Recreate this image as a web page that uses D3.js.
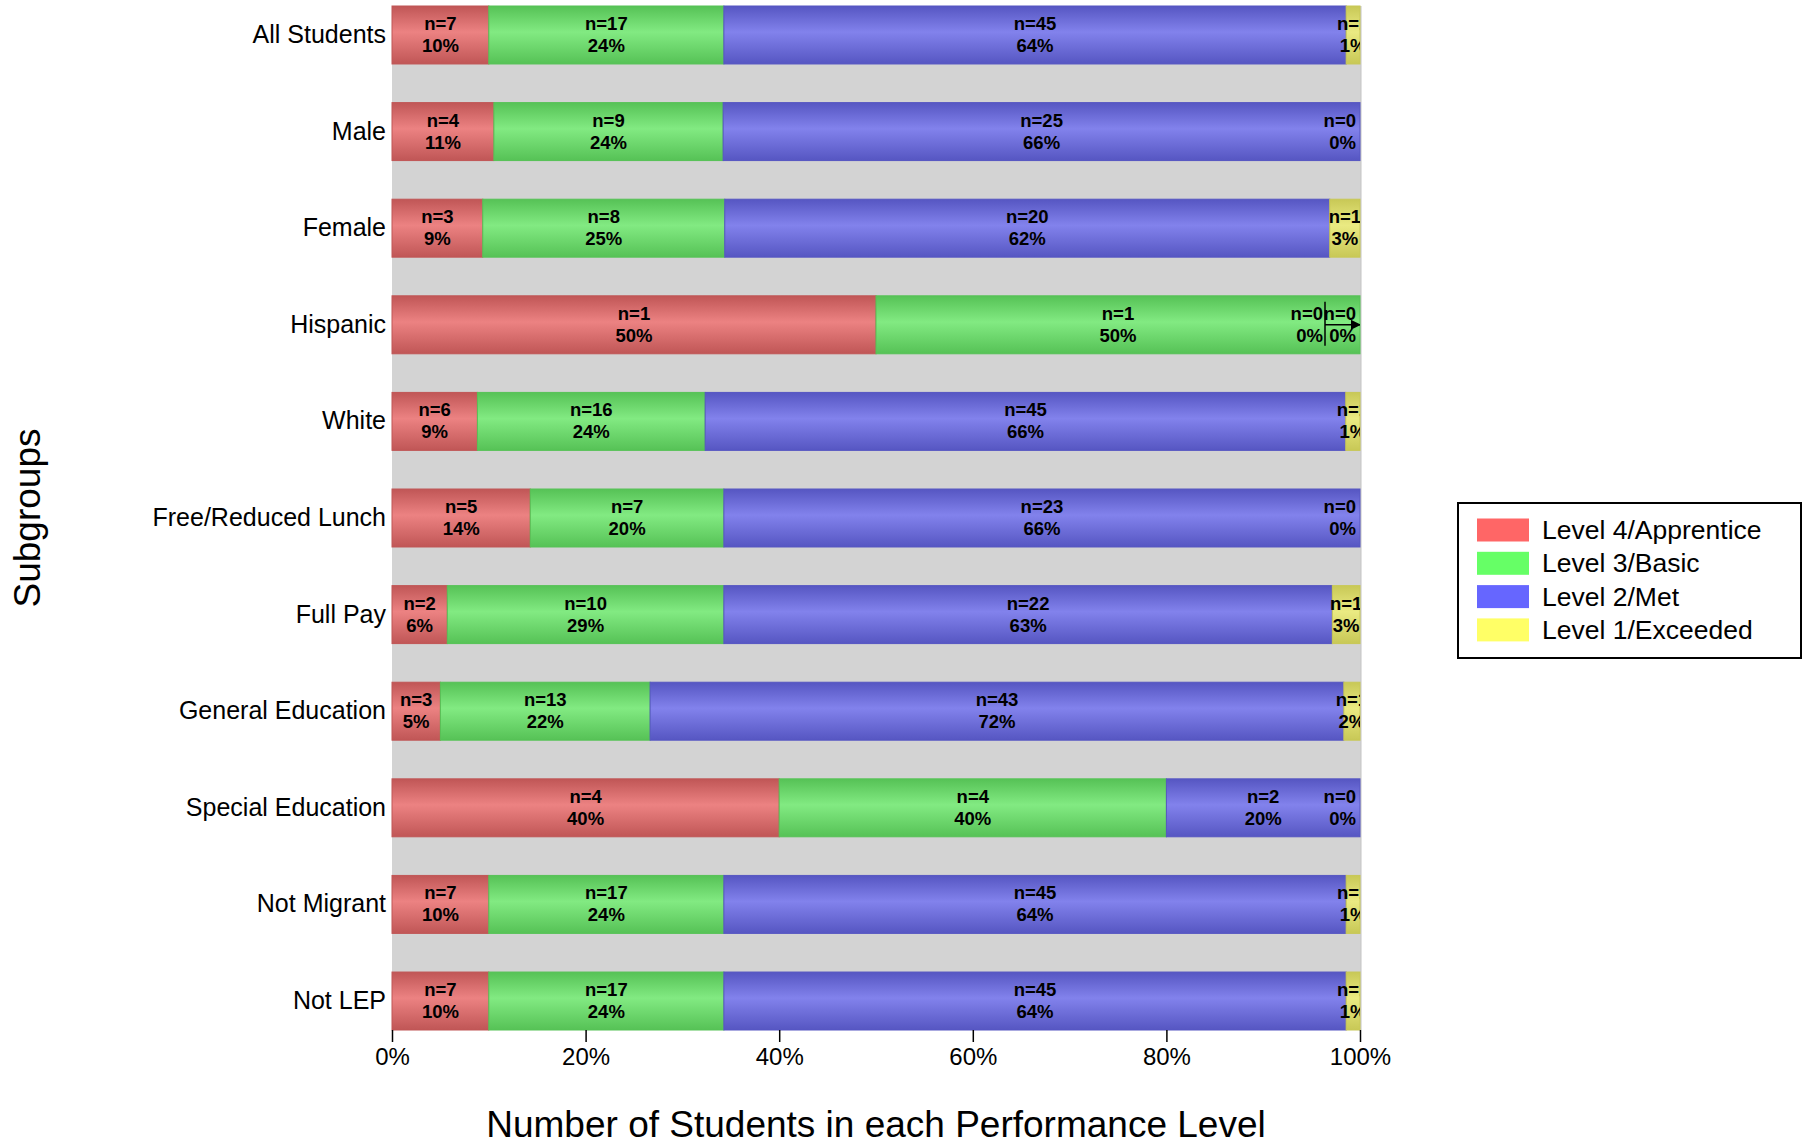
<!DOCTYPE html>
<html>
<head>
<meta charset="utf-8">
<script src="https://cdn.jsdelivr.net/npm/d3@7"></script>
<style>
  body { margin: 0; background: #fff; }
  svg { display: block; font-family: "Liberation Sans", Arial, sans-serif; }
</style>
</head>
<body>
<svg id="chart" width="1808" height="1144"></svg>
<script>
// data
var subgroups = ["All Students", "Male", "Female", "Hispanic", "White", "Free/Reduced Lunch",
    "Full Pay", "General Education", "Special Education", "Not Migrant", "Not LEP"];
var levels = ["Level 4/Apprentice", "Level 3/Basic", "Level 2/Met", "Level 1/Exceeded"];

var level4 = [7, 4, 3, 1, 6, 5, 2, 3, 4, 7, 7];
var level3 = [17, 9, 8, 1, 16, 7, 10, 13, 4, 17, 17];
var level2 = [45, 25, 20, 0, 45, 23, 22, 43, 2, 45, 45];
var level1 = [1, 0, 1, 0, 1, 0, 1, 1, 0, 1, 1];

var pct4 = [10, 11, 9, 50, 9, 14, 6, 5, 40, 10, 10];
var pct3 = [24, 24, 25, 50, 24, 20, 29, 22, 40, 24, 24];
var pct2 = [64, 66, 62, 0, 66, 66, 63, 72, 20, 64, 64];
var pct1 = [1, 0, 3, 0, 1, 0, 3, 2, 0, 1, 1];

var xTicks = [0, 0.2, 0.4, 0.6, 0.8, 1];

var legendColors = ["#ff6666", "#66ff66", "#6666ff", "#ffff66"];
var barLight = ["rgb(236,130,130)", "rgb(130,234,130)", "rgb(130,130,236)", "rgb(234,234,130)"];
var barDark = ["rgb(192,86,86)", "rgb(86,194,86)", "rgb(86,86,194)", "rgb(200,200,86)"];

var counts = [level4, level3, level2, level1];
var pcts = [pct4, pct3, pct2, pct1];

var svg = d3.select("#chart");
var plotL = 392, plotR = 1360, plotT = 6, plotB = 1030;

var x = d3.scaleLinear().domain([0, 1]).range([plotL, plotR]);
var y = d3.scaleBand().domain(subgroups).range([plotT, plotB]).paddingInner(0.4).paddingOuter(0);

// gradients for the bars
var defs = svg.append("defs");
levels.forEach(function (lv, i) {
    var g = defs.append("linearGradient")
        .attr("id", "grad" + i)
        .attr("x1", 0).attr("y1", 0).attr("x2", 0).attr("y2", 1);
    g.append("stop").attr("offset", "0%").attr("stop-color", barDark[i]);
    g.append("stop").attr("offset", "45%").attr("stop-color", barLight[i]);
    g.append("stop").attr("offset", "100%").attr("stop-color", barDark[i]);
});
defs.append("clipPath").attr("id", "plotclip")
    .append("rect").attr("x", plotL).attr("y", 0).attr("width", plotR - plotL).attr("height", 1144);
defs.append("marker").attr("id", "arrow")
    .attr("viewBox", "0 0 10 10").attr("refX", 9).attr("refY", 5)
    .attr("markerWidth", 10).attr("markerHeight", 10)
    .attr("markerUnits", "userSpaceOnUse")
    .attr("orient", "auto")
    .append("path").attr("d", "M0,0L10,5L0,10z").attr("fill", "#000");

// plot background
svg.append("rect")
    .attr("x", plotL).attr("y", plotT)
    .attr("width", plotR - plotL + 1).attr("height", plotB - plotT)
    .attr("fill", "#d3d3d3");
svg.append("line")
    .attr("x1", plotR + 1).attr("x2", plotR + 1).attr("y1", plotT).attr("y2", plotB)
    .attr("stroke", "#c4c4c4");

// build segments
var segs = [];
subgroups.forEach(function (s, r) {
    var total = d3.sum(counts, function (c) { return c[r]; });
    var acc = 0;
    counts.forEach(function (c, k) {
        segs.push({ group: s, row: r, level: k, n: c[r], pct: pcts[k][r], x0: acc / total, x1: (acc + c[r]) / total });
        acc += c[r];
    });
});

svg.append("g").selectAll("rect")
    .data(segs.filter(function (d) { return d.n > 0; }))
    .join("rect")
    .attr("x", function (d) { return x(d.x0); })
    .attr("y", function (d) { return y(d.group); })
    .attr("width", function (d) { return x(d.x1) - x(d.x0); })
    .attr("height", y.bandwidth())
    .attr("fill", function (d) { return "url(#grad" + d.level + ")"; })
    .attr("stroke", function (d) { return barDark[d.level]; })
    .attr("stroke-width", 1);

// labels inside bars
var labels = svg.append("g").attr("clip-path", "url(#plotclip)")
    .style("font-weight", "bold").style("font-size", "18.5px").attr("fill", "#000");

segs.forEach(function (d) {
    var bc = y(d.group) + y.bandwidth() / 2;
    var lx, anchor = "middle";
    if (d.n === 0) {
        anchor = "end";
        lx = x(d.x1) - 4;
        // two empty levels stacked on the same spot: push the earlier one out of the way
        var later = segs.filter(function (e) { return e.row === d.row && e.level > d.level && e.n === 0; });
        if (later.length) {
            lx = x(d.x1) - 37;
            labels.append("line")
                .attr("x1", lx + 2).attr("x2", lx + 2).attr("y1", bc - 23).attr("y2", bc + 21)
                .attr("stroke", "#000").attr("stroke-width", 1.5);
            labels.append("line")
                .attr("x1", lx + 2).attr("x2", x(d.x1)).attr("y1", bc).attr("y2", bc)
                .attr("stroke", "#000").attr("stroke-width", 1.5)
                .attr("marker-end", "url(#arrow)");
        }
    } else {
        lx = (x(d.x0) + x(d.x1)) / 2;
    }
    labels.append("text").attr("x", lx).attr("y", bc - 5)
        .attr("text-anchor", anchor).text("n=" + d.n);
    labels.append("text").attr("x", lx).attr("y", bc + 17)
        .attr("text-anchor", anchor).text(d.pct + "%");
});

// y labels
svg.append("g").selectAll("text")
    .data(subgroups)
    .join("text")
    .attr("x", 386)
    .attr("y", function (d) { return y(d) + y.bandwidth() / 2 + 8; })
    .attr("text-anchor", "end")
    .style("font-size", "25px")
    .text(function (d) { return d; });

// x axis
var xAxis = svg.append("g")
    .attr("transform", "translate(0," + plotB + ")")
    .call(d3.axisBottom(x).tickValues(xTicks).tickFormat(d3.format(".0%")).tickSize(12).tickPadding(6));
xAxis.select(".domain").remove();
xAxis.selectAll(".tick line").attr("stroke", "#000").attr("stroke-width", 1.5);
xAxis.selectAll(".tick text")
    .style("font-size", "24px")
    .style("font-family", "'Liberation Sans', Arial, sans-serif")
    .attr("fill", "#000");

// axis titles
svg.append("text")
    .attr("x", (plotL + plotR) / 2).attr("y", 1137)
    .attr("text-anchor", "middle")
    .style("font-size", "37px")
    .text("Number of Students in each Performance Level");

svg.append("text")
    .attr("transform", "translate(40," + (plotT + plotB) / 2 + ") rotate(-90)")
    .attr("text-anchor", "middle")
    .style("font-size", "37px")
    .text("Subgroups");

// legend
var legend = svg.append("g");
legend.append("rect")
    .attr("x", 1458).attr("y", 503).attr("width", 343).attr("height", 155)
    .attr("fill", "#fff").attr("stroke", "#000").attr("stroke-width", 2);
var item = legend.selectAll("g.item")
    .data(levels)
    .join("g")
    .attr("class", "item")
    .attr("transform", function (d, i) { return "translate(1477," + (530 + i * 33.3) + ")"; });
item.append("rect")
    .attr("x", 0).attr("y", -11.5).attr("width", 52).attr("height", 23)
    .attr("fill", function (d, i) { return legendColors[i]; });
item.append("text")
    .attr("x", 65).attr("y", 9)
    .style("font-size", "26.5px")
    .text(function (d) { return d; });
</script>
</body>
</html>
